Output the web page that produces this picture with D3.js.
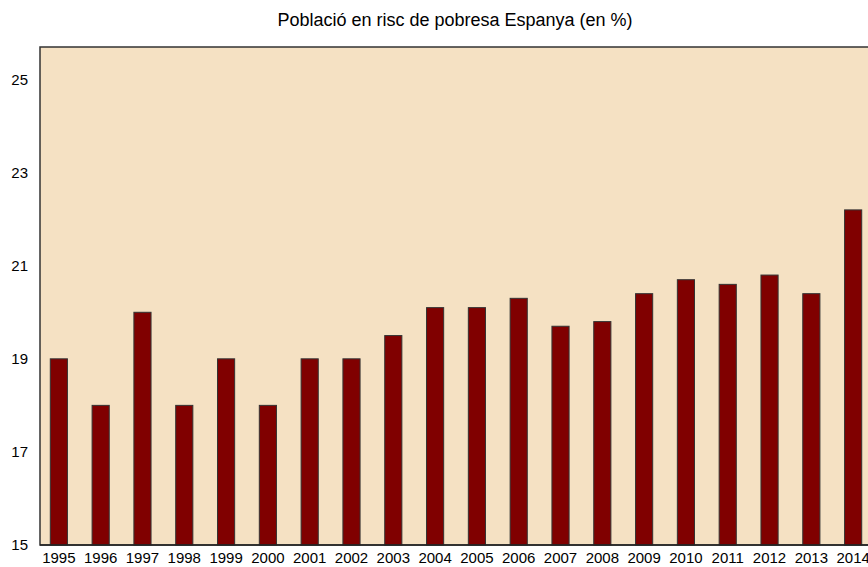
<!DOCTYPE html>
<html>
<head>
<meta charset="utf-8">
<script src="https://cdn.jsdelivr.net/npm/d3@7"></script>
<style>
  body { margin: 0; background: #ffffff; }
  text { font-family: "Liberation Sans", Arial, sans-serif; fill: #000; }
</style>
</head>
<body>
<svg id="chart" width="868" height="567"></svg>
<script>
// chart data
const years = ["1995", "1996", "1997", "1998", "1999", "2000", "2001", "2002", "2003", "2004",
               "2005", "2006", "2007", "2008", "2009", "2010", "2011", "2012", "2013", "2014"];
const values = [19, 18, 20, 18, 19, 18, 19, 19, 19.5, 20.1,
                20.1, 20.3, 19.7, 19.8, 20.4, 20.7, 20.6, 20.8, 20.4, 22.2];
const yTicks = [15, 17, 19, 21, 23, 25];

const dataset = years.map((y, i) => ({ year: y, value: values[i] }));

const plotLeft = 40;
const plotTop = 47;
const plotBottom = 545;
const plotRight = 874;

const svg = d3.select("#chart");

const xScale = d3.scaleBand()
                .domain(years)
                .range([plotLeft - 1, plotRight - 1])
                .paddingInner(0.59)
                .paddingOuter(0.27);

const yScale = d3.scaleLinear()
                .domain([15, 25.7])
                .range([plotBottom, plotTop]);

// plot background
svg.append("rect")
    .attr("x", plotLeft)
    .attr("y", plotTop)
    .attr("width", plotRight - plotLeft + 10)
    .attr("height", plotBottom - plotTop)
    .attr("fill", "#f5e1c3")
    .attr("stroke", "#333")
    .attr("stroke-width", 1.5);

svg.selectAll("rect.bar")
    .data(dataset)
    .join("rect")
    .attr("class", "bar")
    .attr("x", d => xScale(d.year))
    .attr("y", d => yScale(d.value))
    .attr("width", xScale.bandwidth())
    .attr("height", d => plotBottom - yScale(d.value))
    .attr("fill", "#800000")
    .attr("stroke", "#333")
    .attr("stroke-width", 1);

// axis line at bottom
svg.append("line")
    .attr("x1", plotLeft)
    .attr("x2", 868)
    .attr("y1", plotBottom)
    .attr("y2", plotBottom)
    .attr("stroke", "#222")
    .attr("stroke-width", 1.5);

const leftAxis = d3.axisLeft(yScale).tickValues(yTicks).tickSize(0).tickPadding(12);
const gLeft = svg.append("g")
    .attr("transform", "translate(" + plotLeft + ",0)")
    .call(leftAxis);
gLeft.select(".domain").remove();
gLeft.selectAll("text").style("font-size", "15px").style("font-family", "Liberation Sans, Arial, sans-serif");

const bottomAxis = d3.axisBottom(xScale).tickSize(0).tickPadding(7);
const gBot = svg.append("g")
    .attr("transform", "translate(0," + plotBottom + ")")
    .call(bottomAxis);
gBot.select(".domain").remove();
gBot.selectAll("text").style("font-size", "15px").style("font-family", "Liberation Sans, Arial, sans-serif");

svg.append("text")
    .attr("x", 455)
    .attr("y", 26)
    .attr("text-anchor", "middle")
    .style("font-size", "18px")
    .text("Població en risc de pobresa Espanya (en %)");
</script>
</body>
</html>
